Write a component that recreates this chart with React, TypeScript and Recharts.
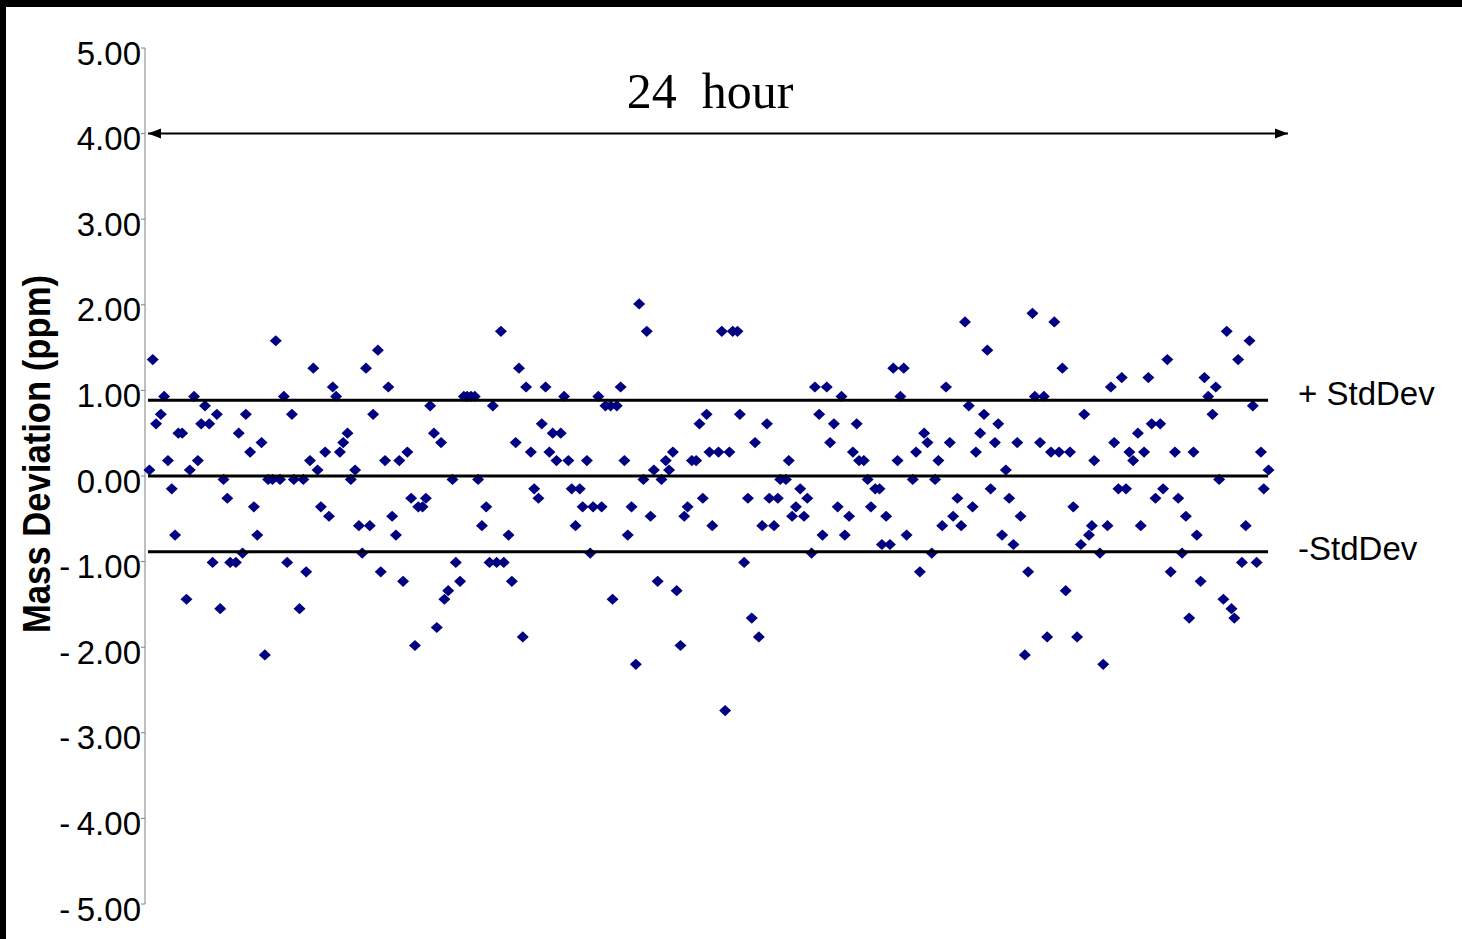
import { ScatterChart, Scatter, XAxis, YAxis, Label } from "recharts";

// scan time (hours) and mass deviation (ppm), read left to right off the plot
const scanHours = [
  0.03, 0.1, 0.17, 0.27, 0.34, 0.42, 0.5, 0.57, 0.64, 0.72, 0.81, 0.88, 0.97, 1.05, 1.12, 1.2, 1.29, 1.36, 1.45, 1.52,
  1.59, 1.67, 1.73, 1.85, 1.91, 1.99, 2.06, 2.15, 2.23, 2.3, 2.39, 2.46, 2.53, 2.62, 2.69, 2.78, 2.86, 2.93, 3.03, 3.07,
  3.19, 3.27, 3.33, 3.41, 3.48, 3.57, 3.64, 3.73, 3.81,
  3.89, 3.96, 4.04, 4.11, 4.2, 4.27, 4.36, 4.44, 4.51, 4.59, 4.67, 4.74, 4.84, 4.9, 4.99, 5.06, 5.14, 5.22, 5.29, 5.37,
  5.46, 5.54, 5.62, 5.69, 5.78, 5.85, 5.94, 6.02, 6.08, 6.17, 6.24, 6.32, 6.41, 6.48, 6.57, 6.65, 6.72, 6.8, 6.88, 6.95,
  7.03, 7.12, 7.19, 7.26, 7.34, 7.43, 7.49, 7.59, 7.66, 7.74, 7.81, 7.89, 7.96,
  8.06, 8.13, 8.22, 8.29, 8.37, 8.45, 8.52, 8.6, 8.69, 8.76, 8.85, 8.92, 9.0, 9.09, 9.15, 9.24, 9.31, 9.37, 9.48, 9.55,
  9.63, 9.74, 9.78, 9.87, 9.95, 10.03, 10.1, 10.18, 10.27, 10.34, 10.43, 10.5, 10.58, 10.65, 10.73, 10.81, 10.9, 10.97,
  11.05, 11.13, 11.21, 11.29, 11.36, 11.45, 11.54, 11.61, 11.68, 11.76, 11.82, 11.88,
  12.01, 12.08, 12.15, 12.24, 12.31, 12.41, 12.46, 12.55, 12.63, 12.71, 12.78, 12.86, 12.93, 13.03, 13.08, 13.18, 13.26,
  13.31, 13.43, 13.49, 13.56, 13.64, 13.73, 13.81, 13.88, 13.97, 14.04, 14.13, 14.2, 14.29, 14.36, 14.44, 14.52, 14.6,
  14.67, 14.76, 14.84, 14.92, 14.97, 15.07, 15.15, 15.22, 15.31, 15.4, 15.45, 15.54, 15.62, 15.69, 15.78, 15.84, 15.91,
  15.97,
  16.1, 16.17, 16.25, 16.34, 16.41, 16.5, 16.57, 16.64, 16.72, 16.8, 16.88, 16.95, 17.04, 17.12, 17.2, 17.28, 17.36,
  17.43, 17.52, 17.6, 17.67, 17.74, 17.83, 17.9, 17.98, 18.06, 18.13, 18.22, 18.3, 18.37, 18.46, 18.53, 18.62, 18.67,
  18.78, 18.86, 18.93, 19.01, 19.08, 19.18, 19.25, 19.32, 19.41, 19.48, 19.56, 19.64, 19.71, 19.81, 19.87, 19.92,
  20.04, 20.11, 20.2, 20.27, 20.34, 20.43, 20.5, 20.59, 20.66, 20.74, 20.84, 20.9, 20.97, 21.06, 21.13, 21.21, 21.31,
  21.37, 21.46, 21.53, 21.62, 21.69, 21.77, 21.85, 21.92, 22.01, 22.08, 22.16, 22.24, 22.32, 22.41, 22.48, 22.55, 22.64,
  22.71, 22.81, 22.87, 22.95, 23.03, 23.11, 23.19, 23.26, 23.34, 23.43, 23.49, 23.59,
];

const deviationPpm = [
  0.07, 1.36, 0.61, 0.72, 0.93, 0.18, -0.15, -0.69, 0.5, 0.5, -1.44, 0.07, 0.93, 0.18, 0.61, 0.82, 0.61, -1.01, 0.72, -1.55,
  -0.04, -0.26, -1.01, -1.01, 0.5, -0.9, 0.72, 0.28, -0.36, -0.69, 0.39, -2.09, -0.04, -0.04, 1.58, -0.04, 0.93, -1.01, 0.72, -0.04,
  -1.55, -0.04, -1.12, 0.18, 1.26, 0.07, -0.36, 0.28, -0.47,
  1.04, 0.93, 0.28, 0.39, 0.5, -0.04, 0.07, -0.58, -0.9, 1.26, -0.58, 0.72, 1.47, -1.12, 0.18, 1.04, -0.47, -0.69, 0.18, -1.23,
  0.28, -0.26, -1.98, -0.36, -0.36, -0.26, 0.82, 0.5, -1.77, 0.39, -1.44, -1.34, -0.04, -1.01, -1.23, 0.93, 0.93, 0.93, 0.93, -0.04,
  -0.58, -0.36, -1.01, 0.82, -1.01, 1.69, -1.01, -0.69, -1.23, 0.39, 1.26, -1.88, 1.04,
  0.28, -0.15, -0.26, 0.61, 1.04, 0.28, 0.5, 0.18, 0.5, 0.93, 0.18, -0.15, -0.58, -0.15, -0.36, 0.18, -0.9, -0.36, 0.93, -0.36,
  0.82, 0.82, -1.44, 0.82, 1.04, 0.18, -0.69, -0.36, -2.2, 2.01, -0.04, 1.69, -0.47, 0.07, -1.23, -0.04, 0.18, 0.07,
  0.28, -1.34, -1.98, -0.47, -0.36, 0.18, 0.18, 0.61, -0.26, 0.72, 0.28, -0.58,
  0.28, 1.69, -2.74, 0.28, 1.69, 1.69, 0.72, -1.01, -0.26, -1.66, 0.39, -1.88, -0.58, 0.61, -0.26, -0.58, -0.26,
  -0.04, -0.04, 0.18, -0.47, -0.36, -0.15, -0.47, -0.26, -0.9, 1.04, 0.72, -0.69, 1.04, 0.39, 0.61, -0.36, 0.93,
  -0.69, -0.47, 0.28, 0.61, 0.18, 0.18, -0.04, -0.36, -0.15, -0.15, -0.8, -0.47, -0.8, 1.26, 0.18, 0.93, 1.26,
  -0.69,
  -0.04, 0.28, -1.12, 0.5, 0.39, -0.9, -0.04, 0.18, -0.58, 1.04, 0.39, -0.47, -0.26, -0.58, 1.8, 0.82, -0.36,
  0.28, 0.5, 0.72, 1.47, -0.15, 0.39, 0.61, -0.69, 0.07, -0.26, -0.8, 0.39, -0.47, -2.09, -1.12, 1.9, 0.93,
  0.39, 0.93, -1.88, 0.28, 1.8, 0.28, 1.26, -1.34, 0.28, -0.36, -1.88, -0.8, 0.72, -0.69, -0.58, 0.18,
  -0.9, -2.2, -0.58, 1.04, 0.39, -0.15, 1.15, -0.15, 0.28, 0.18, 0.5, -0.58, 0.28, 1.15, 0.61, -0.26, 0.61,
  -0.15, 1.36, -1.12, 0.28, -0.26, -0.9, -0.47, -1.66, 0.28, -0.69, -1.23, 1.15, 0.93, 0.72, 1.04, -0.04, -1.44,
  1.69, -1.55, -1.66, 1.36, -1.01, -0.58, 1.58, 0.82, -1.01, 0.28, -0.15, 0.07,
];

const yTicks = [5, 4, 3, 2, 1, 0, -1, -2, -3, -4, -5];
const stdDev = 0.885;
const bandHours = [0, 23.58]; // extent of the mean and +/- StdDev lines
const spanHours = [0, 24];
const spanLevel = 4;
const title = "24\u00A0\u00A0hour";

const SANS = '"Liberation Sans", Arial, sans-serif';
const SERIF = '"Liberation Serif", "Times New Roman", serif';

const points = scanHours.map((h, i) => ({ h, ppm: deviationPpm[i] }));
const plusLine = [
  { h: bandHours[0], ppm: stdDev },
  { h: bandHours[1], ppm: stdDev, tag: "+ StdDev" },
];
const zeroLine = [
  { h: bandHours[0], ppm: 0 },
  { h: bandHours[1], ppm: 0 },
];
const minusLine = [
  { h: bandHours[0], ppm: -stdDev },
  { h: bandHours[1], ppm: -stdDev, tag: "-StdDev" },
];
const spanArrow = [
  { h: spanHours[0], ppm: spanLevel, dir: -1 },
  { h: spanHours[1], ppm: spanLevel, dir: 1 },
];

const Diamond = ({ cx, cy }: any) => {
  const rx = 6;
  const ry = 5.6;
  return (
    <polygon
      points={`${cx},${cy - ry} ${cx + rx},${cy} ${cx},${cy + ry} ${cx - rx},${cy}`}
      fill="#000080"
    />
  );
};

const LineEnd = ({ cx, cy, payload }: any) =>
  payload && payload.tag ? (
    <text
      x={cx + 30}
      y={cy + (payload.tag[0] === "+" ? 5 : 8)}
      fontSize={33}
      fontFamily={SANS}
      fill="#000"
    >
      {payload.tag}
    </text>
  ) : (
    <g />
  );

const ArrowHead = ({ cx, cy, payload }: any) => {
  const d = payload.dir;
  return (
    <polygon
      points={`${cx},${cy} ${cx - d * 13},${cy - 5} ${cx - d * 13},${cy + 5}`}
      fill="#000"
    />
  );
};

const fmt = (v: number) =>
  v < 0 ? "-\u2009" + Math.abs(v).toFixed(2) : v.toFixed(2);

const YTick = ({ x, y, payload }: any) => (
  <text
    x={x}
    y={y + 16.5}
    textAnchor="end"
    fontSize={33}
    fontFamily={SANS}
    fill="#000"
  >
    {fmt(payload.value)}
  </text>
);

const YTitle = ({ viewBox }: any) => {
  const x = viewBox.x + 50;
  const y = viewBox.y + viewBox.height / 2 - 22;
  return (
    <text
      x={x}
      y={y}
      transform={`rotate(-90 ${x} ${y})`}
      textAnchor="middle"
      fontSize={38}
      fontWeight="bold"
      fontFamily={SANS}
      textLength={358}
      lengthAdjust="spacingAndGlyphs"
      fill="#000"
    >
      Mass Deviation (ppm)
    </text>
  );
};

export default function App() {
  return (
    <div
      style={{
        position: "absolute",
        left: 0,
        top: 0,
        width: 1462,
        height: 939,
        background: "#000",
        overflow: "hidden",
      }}
    >
      <div
        style={{
          position: "absolute",
          left: 6,
          top: 7,
          width: 1456,
          height: 932,
          background: "#fff",
        }}
      />
      <div style={{ position: "absolute", left: 0, top: 0 }}>
        <ScatterChart
          width={1462}
          height={939}
          margin={{ top: 48, right: 174, bottom: 35, left: 0 }}
        >
          <XAxis
            type="number"
            dataKey="h"
            domain={[0, 24]}
            padding={{ left: 3, right: 0 }}
            hide
          />
          <YAxis
            type="number"
            dataKey="ppm"
            domain={[-5, 5]}
            ticks={yTicks}
            interval={0}
            width={145}
            tickSize={4}
            tickMargin={0}
            axisLine={{ stroke: "#808080", strokeWidth: 1 }}
            tickLine={{ stroke: "#808080", strokeWidth: 1 }}
            tick={<YTick />}
          >
            <Label content={<YTitle />} />
          </YAxis>
          <Scatter
            data={points}
            shape={<Diamond />}
            isAnimationActive={false}
          />
          <Scatter
            data={zeroLine}
            fill="#000"
            line={{ stroke: "#000", strokeWidth: 3.2 }}
            shape={<LineEnd />}
            isAnimationActive={false}
          />
          <Scatter
            data={plusLine}
            fill="#000"
            line={{ stroke: "#000", strokeWidth: 3.2 }}
            shape={<LineEnd />}
            isAnimationActive={false}
          />
          <Scatter
            data={minusLine}
            fill="#000"
            line={{ stroke: "#000", strokeWidth: 3.2 }}
            shape={<LineEnd />}
            isAnimationActive={false}
          />
          <Scatter
            data={spanArrow}
            fill="#000"
            line={{ stroke: "#000", strokeWidth: 2 }}
            shape={<ArrowHead />}
            isAnimationActive={false}
          />
        </ScatterChart>
      </div>
      <svg
        width={1462}
        height={939}
        style={{ position: "absolute", left: 0, top: 0, pointerEvents: "none" }}
      >
        <text
          x={710}
          y={108}
          textAnchor="middle"
          fontSize={50}
          fontFamily={SERIF}
          fill="#000"
        >
          {title}
        </text>
      </svg>
    </div>
  );
}
